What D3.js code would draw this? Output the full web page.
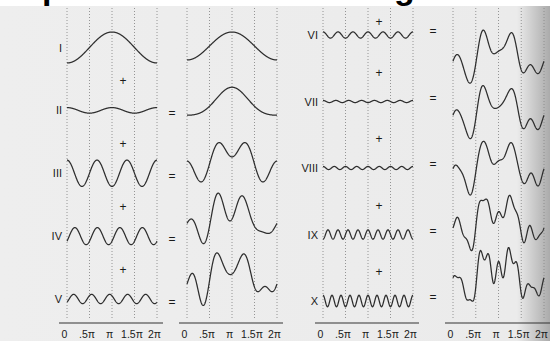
<!DOCTYPE html>
<html>
<head>
<meta charset="utf-8">
<script src="https://cdn.jsdelivr.net/npm/d3@7"></script>
<style>
  body { margin: 0; background: #fff; }
  svg { display: block; }
</style>
</head>
<body>
<div id="chart"></div>
<script>
// Harmonic components I..X
const numerals = ['I', 'II', 'III', 'IV', 'V', 'VI', 'VII', 'VIII', 'IX', 'X'];
const harmonics = [1, 2, 3, 4, 5, 6, 7, 8, 9, 10];
// amplitude relative to component I
const amplitudes = [1, 0.18, 0.85, 0.55, 0.3, 0.2, 0.07, 0.1, 0.3, 0.37];
// phase shift, in units of pi
const phases = [1, 0, 0, 0.7, 0.74, 0, 0, 0, 1, 0];
// x axis ticks, in units of pi
const tickValues = [0, 0.5, 1, 1.5, 2];
const tickLabels = ['0', '.5π', 'π', '1.5π', '2π'];

const width = 550;
const height = 341;
const axisY = 323;
const font = '"Liberation Sans", Arial, sans-serif';

// Four panels: components, running sums, components, running sums
const panels = [
  { x: [67, 157], y: [47.5, 299], first: 0, sum: false },
  { x: [187, 277], y: [46, 277], first: 0, sum: true },
  { x: [323, 413], y: [35, 301], first: 5, sum: false },
  { x: [453, 544], y: [57, 277], first: 5, sum: true }
];

const svg = d3.select('#chart')
  .append('svg')
  .attr('width', width)
  .attr('height', height);

// scanned paper
const defs = svg.append('defs');
const grad = defs.append('linearGradient')
  .attr('id', 'edge')
  .attr('x1', 0).attr('x2', 1).attr('y1', 0).attr('y2', 0);
grad.append('stop').attr('offset', '0').attr('stop-color', '#eeeeee');
grad.append('stop').attr('offset', '0.94').attr('stop-color', '#ebebeb');
grad.append('stop').attr('offset', '1').attr('stop-color', '#ababab');

svg.append('rect')
  .attr('x', 0).attr('y', 6)
  .attr('width', width).attr('height', height - 6)
  .attr('fill', 'url(#edge)');

// bits of the heading cut off at the top
svg.append('text')
  .attr('x', 42).attr('y', -1)
  .style('font', 'bold 34px ' + font)
  .text('p');
svg.append('text')
  .attr('x', 394).attr('y', -1)
  .style('font', 'bold 34px ' + font)
  .text('g');

function component(k, t) {
  return amplitudes[k] * Math.cos(harmonics[k] * t - phases[k] * Math.PI);
}

function partialSum(k, t) {
  let s = 0;
  for (let j = 0; j <= k; j++) s += component(j, t);
  return s;
}

const samples = d3.range(0, 2 * Math.PI + 1e-9, 2 * Math.PI / 400);

panels.forEach((p, pi) => {
  const x = d3.scaleLinear().domain([0, 2 * Math.PI]).range(p.x);
  const rows = d3.range(p.first, p.first + 5);
  const rowY = d3.scalePoint().domain(rows).range(p.y);
  const unit = p.sum ? 14 : 15.5;
  const g = svg.append('g');

  // dotted grid
  g.selectAll('line.grid')
    .data(tickValues)
    .enter()
    .append('line')
    .attr('class', 'grid')
    .attr('x1', (d) => x(d * Math.PI))
    .attr('x2', (d) => x(d * Math.PI))
    .attr('y1', 8)
    .attr('y2', axisY - 3)
    .attr('stroke', '#8a8a8a')
    .attr('stroke-width', 0.9)
    .attr('stroke-dasharray', '1,2');

  // axis with tick labels
  const axis = d3.axisBottom(x)
    .tickValues(tickValues.map((d) => d * Math.PI))
    .tickFormat((d, i) => tickLabels[i])
    .tickSize(0)
    .tickPadding(7.5);
  const ax = g.append('g')
    .attr('transform', 'translate(0,' + axisY + ')')
    .call(axis);
  ax.select('.domain').remove();
  ax.selectAll('text')
    .attr('dx', -3)
    .style('font', '10.5px ' + font)
    .attr('fill', '#1a1a1a');
  g.append('line')
    .attr('x1', p.x[0] - 8).attr('x2', p.x[1] + 6)
    .attr('y1', axisY).attr('y2', axisY)
    .attr('stroke', '#333')
    .attr('stroke-width', 1.1);

  // waves
  rows.forEach((k) => {
    const line = d3.line()
      .x((t) => x(t))
      .y((t) => rowY(k) - unit * (p.sum ? partialSum(k, t) : component(k, t)));
    g.append('path')
      .datum(samples)
      .attr('d', line)
      .attr('fill', 'none')
      .attr('stroke', '#2e2e2e')
      .attr('stroke-width', 1.25);

    if (!p.sum) {
      g.append('text')
        .attr('x', p.x[0] - 5)
        .attr('y', rowY(k) + 4)
        .attr('text-anchor', 'end')
        .style('font', '11px ' + font)
        .attr('fill', '#1a1a1a')
        .text(numerals[k]);
      if (k > 0) {
        // '+' sits just above each component; VI continues from V
        const off = k === 5 ? 13 : 29;
        g.append('text')
          .attr('x', (p.x[0] + p.x[1]) / 2 + 11)
          .attr('y', rowY(k) - off + 4)
          .attr('text-anchor', 'middle')
          .style('font', '12px ' + font)
          .attr('fill', '#1a1a1a')
          .text('+');
      }
    } else if (k > 0) {
      // '=' between component and sum panels
      const prev = panels[pi - 1];
      const prevY = d3.scalePoint().domain(rows).range(prev.y);
      g.append('text')
        .attr('x', (prev.x[1] + p.x[0]) / 2)
        .attr('y', prevY(k) + (k < 5 ? 3 : -4) + 4)
        .attr('text-anchor', 'middle')
        .style('font', '12px ' + font)
        .attr('fill', '#1a1a1a')
        .text('=');
    }
  });
});
</script>
</body>
</html>
